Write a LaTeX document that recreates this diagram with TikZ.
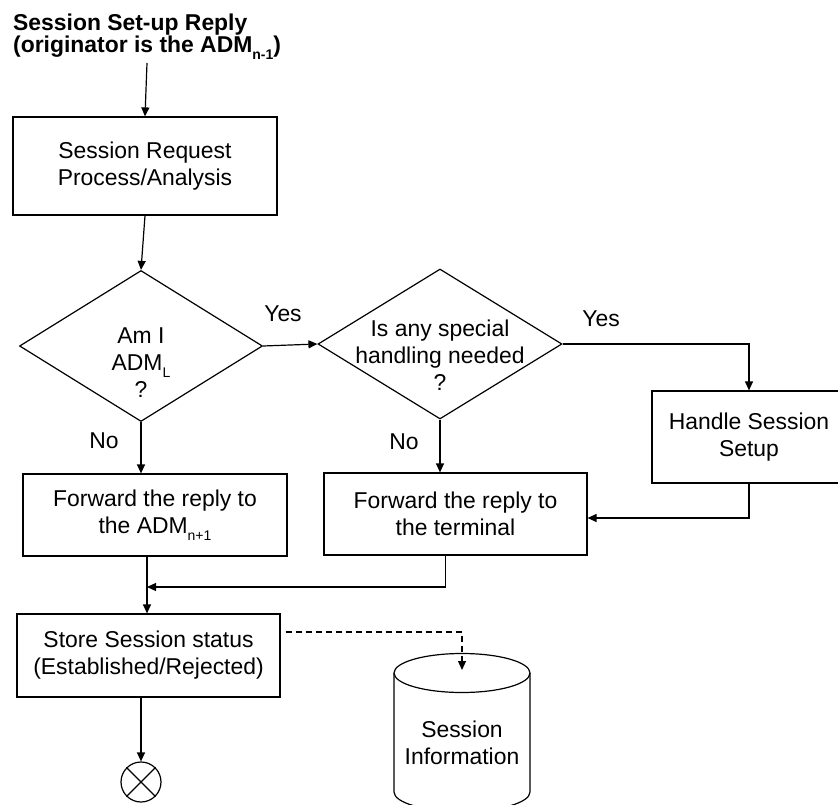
\documentclass[tikz,border=0pt]{standalone}
\usepackage{fontspec}
\setmainfont{Liberation Sans}
\usetikzlibrary{arrows.meta,shapes.geometric}
% small lowered index used in ADM_{...}
\newcommand\lowsub[1]{\raisebox{-0.3em}{\fontsize{14}{14}\selectfont #1}}

\begin{document}
\begin{tikzpicture}[x=1pt,y=-1pt,
  every node/.style={font=\fontsize{22.9}{27}\selectfont},
  proc/.style={draw, line width=1.2pt, rectangle, inner sep=0pt, align=center},
  decision/.style={draw, line width=1.2pt, diamond, inner sep=0pt},
  lbl/.style={inner sep=0pt},
  flow/.style={-{Triangle[length=9pt,width=8pt]}, line width=1.2pt},
  dataflow/.style={flow, dash pattern=on 6pt off 4pt}
]
\useasboundingbox (0,0) rectangle (838,805);
\clip (0,0) rectangle (838,805);

% heading
\node[lbl, anchor=base west, font=\bfseries\fontsize{22.9}{27}\selectfont] (title1) at (13,31) {Session Set-up Reply};
\node[lbl, anchor=base west, font=\bfseries\fontsize{22.9}{27}\selectfont] (title2) at (13,53) {(originator is the ADM\lowsub{n-1})};
\coordinate (tstart) at (147,63);

% process boxes
\node[proc, minimum width=264pt, minimum height=98pt] (box1) at (145,166) {Session Request\\Process/Analysis};
\node[proc, minimum width=264pt, minimum height=82pt] (fwdadm) at (155,515) {Forward the reply to\\the ADM\lowsub{n+1}};
\node[proc, minimum width=263pt, minimum height=82pt] (fwdterm) at (455.5,514) {Forward the reply to\\the terminal};
\node[proc, minimum width=194pt, minimum height=92pt] (handle) at (749,437) {Handle Session\\Setup};
\node[proc, minimum width=263pt, minimum height=83pt] (store) at (148.5,655.5) {Store Session status\\(Established/Rejected)};

% decisions
\node[decision, minimum width=243pt, minimum height=151pt] (d1) at (141,346) {};
\node[lbl, align=center] (d1t) at (141,363) {Am I\\ADM\lowsub{L}\\?};
\node[decision, minimum width=244pt, minimum height=150pt] (d2) at (440,344) {};
\node[lbl, align=center] (d2t) at (440,355) {Is any special\\handling needed\\?};

% branch labels
\node[lbl] (yes1) at (283,314) {Yes};
\node[lbl] (yes2) at (601,319) {Yes};
\node[lbl] (no1) at (104,441) {No};
\node[lbl] (no2) at (404,442) {No};

% data store
\draw[line width=1.2pt] (394,673) -- (394,792)
  arc[start angle=180, end angle=360, x radius=68pt, y radius=19.5pt] -- (530,673);
\draw[line width=1.2pt] (462,673) ellipse [x radius=68pt, y radius=19.5pt];
\node[lbl, align=center] (cyl) at (462,743) {Session\\Information};
\coordinate (cyltop) at (462,670);

% end of flow
\node[draw, circle, line width=1.2pt, minimum size=40pt, inner sep=0pt] (endc) at (141,782) {};
\draw[line width=1.2pt] (endc.north west) -- (endc.south east) (endc.north east) -- (endc.south west);

% connectors
\coordinate (join) at (147,587);
\draw[flow] (tstart) -- (box1.north);
\draw[flow] (box1.south) -- (d1.north);
\draw[flow] (d1.east) -- (d2.west);
\draw[flow] (d1.south) -- (d1.south |- fwdadm.north);
\draw[flow] (d2.south) -- (d2.south |- fwdterm.north);
\draw[flow] (d2.east) -| (handle.north);
\draw[flow] (handle.south) |- ([yshift=-4pt]fwdterm.east);
\draw[flow] ([xshift=-10pt]fwdterm.south) |- (join);
\draw[flow] (fwdadm.south -| join) -- (store.north -| join);
\draw[dataflow] ([shift={(5pt,23.5pt)}]store.east) -| (cyltop);
\draw[flow] (endc.north |- store.south) -- (endc.north);
\end{tikzpicture}
\end{document}
